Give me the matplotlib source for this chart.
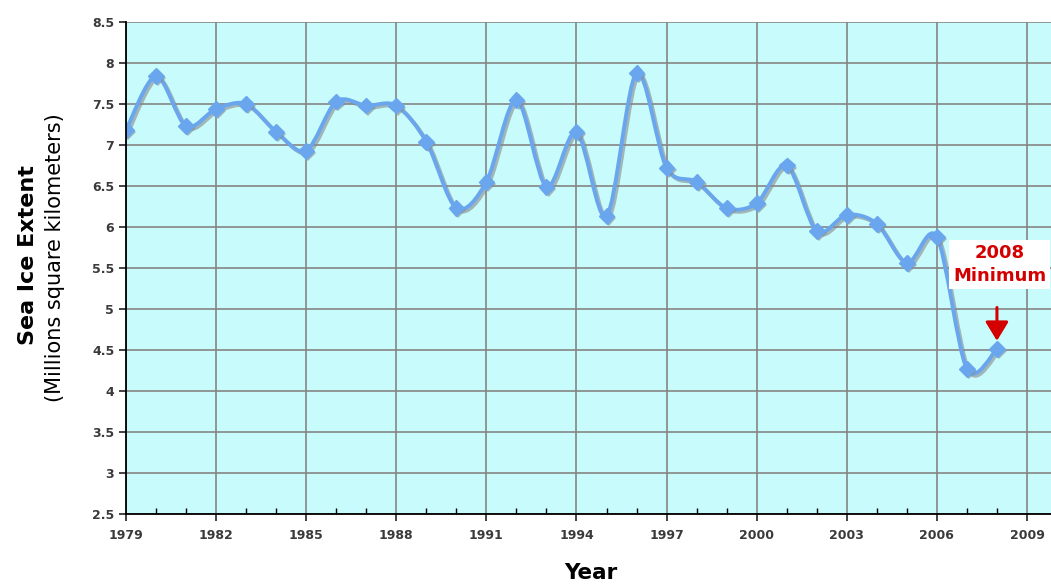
import numpy as np
import matplotlib
matplotlib.use("Agg")
import matplotlib.pyplot as plt
from matplotlib.path import Path
from matplotlib.patches import PathPatch
from matplotlib.ticker import MultipleLocator
import matplotlib.patheffects as pe

years = list(range(1979, 2009))
extent = [7.18, 7.84, 7.23, 7.44, 7.50, 7.16, 6.93, 7.53, 7.48, 7.48,
          7.04, 6.23, 6.55, 7.55, 6.49, 7.16, 6.13, 7.88, 6.72, 6.55,
          6.23, 6.29, 6.75, 5.95, 6.15, 6.04, 5.56, 5.88, 4.27, 4.51]
x_ticks = list(range(1979, 2010, 3))
y_ticks = [2.5, 3, 3.5, 4, 4.5, 5, 5.5, 6, 6.5, 7, 7.5, 8, 8.5]

line_c = '#6aa6ee'
red = '#d40000'

fig = plt.figure(figsize=(10.51, 5.86), dpi=100)
ax = fig.add_axes([0.1199, 0.1229, 0.8801, 0.8396])
ax.set_facecolor('#c8fcfc')

# smoothed line like excel (catmull-rom as cubic bezier)
x = np.array(years, dtype=float)
y = np.array(extent)
verts = [(x[0], y[0])]
codes = [Path.MOVETO]
n = len(x)
k = 1 / 6.5
for i in range(n - 1):
    p0 = (x[max(i - 1, 0)], y[max(i - 1, 0)])
    p1 = (x[i], y[i])
    p2 = (x[i + 1], y[i + 1])
    p3 = (x[min(i + 2, n - 1)], y[min(i + 2, n - 1)])
    c1 = (p1[0] + (p2[0] - p0[0]) * k, p1[1] + (p2[1] - p0[1]) * k)
    c2 = (p2[0] - (p3[0] - p1[0]) * k, p2[1] - (p3[1] - p1[1]) * k)
    verts += [c1, c2, p2]
    codes += [Path.CURVE4] * 3
shadow = [pe.SimpleLineShadow(offset=(1.5, -1.5), shadow_color='#888888', alpha=0.6), pe.Normal()]
patch = PathPatch(Path(verts, codes), fill=False, edgecolor=line_c, lw=2.8, zorder=3,
                  capstyle='round', joinstyle='round')
patch.set_path_effects(shadow)
ax.add_patch(patch)
ax.plot(years, extent, ls='none', marker='D', ms=8, color=line_c, zorder=4,
        path_effects=[pe.SimplePatchShadow(offset=(1.5, -1.5), shadow_rgbFace='#888888', alpha=0.6), pe.Normal()])

ax.set_xlim(1979, 2009.8)
ax.set_ylim(2.5, 8.5)
ax.set_xticks(x_ticks)
ax.set_yticks(y_ticks)
ax.set_yticklabels([f'{v:g}' for v in y_ticks])
ax.xaxis.set_minor_locator(MultipleLocator(1))
ax.grid(True, which='major', color='#858585', lw=1.2, zorder=1)
ax.set_axisbelow(True)
for s in ['top', 'right']:
    ax.spines[s].set_visible(False)
for s in ['left', 'bottom']:
    ax.spines[s].set_linewidth(1.3)
    ax.spines[s].set_zorder(5)
ax.tick_params(which='major', direction='out', length=5, width=1.2, labelsize=9, colors='#222222')
ax.tick_params(which='minor', direction='in', length=4, width=1.0)
ax.tick_params(axis='x', pad=6)
for lab in ax.get_xticklabels() + ax.get_yticklabels():
    lab.set_fontweight('bold')
    lab.set_color('#3a3a3a')

# annotation for the last point
ax.annotate('2008\nMinimum', xy=(years[-1], extent[-1]), xytext=(2, 61), textcoords='offset points',
            ha='center', va='center', color=red, fontsize=13, fontweight='bold', linespacing=1.3,
            bbox=dict(boxstyle='square,pad=0.22', fc='white', ec='none'), zorder=6)
ax.annotate('', xy=(years[-1], extent[-1]), xytext=(0, 30), textcoords='offset points', zorder=6,
            arrowprops=dict(arrowstyle='-|>,head_length=1.15,head_width=0.7', mutation_scale=10,
                            color=red, lw=2.2, shrinkA=0, shrinkB=6))

fig.text(0.0266, 0.565, 'Sea Ice Extent', rotation=90, ha='center', va='center',
         fontsize=16, fontweight='bold')
fig.text(0.052, 0.56, '(Millions square kilometers)', rotation=90, ha='center', va='center',
         fontsize=15)
fig.text(0.562, 0.022, 'Year', ha='center', va='center', fontsize=15.5, fontweight='bold')

fig.savefig('out.png', dpi=100)
